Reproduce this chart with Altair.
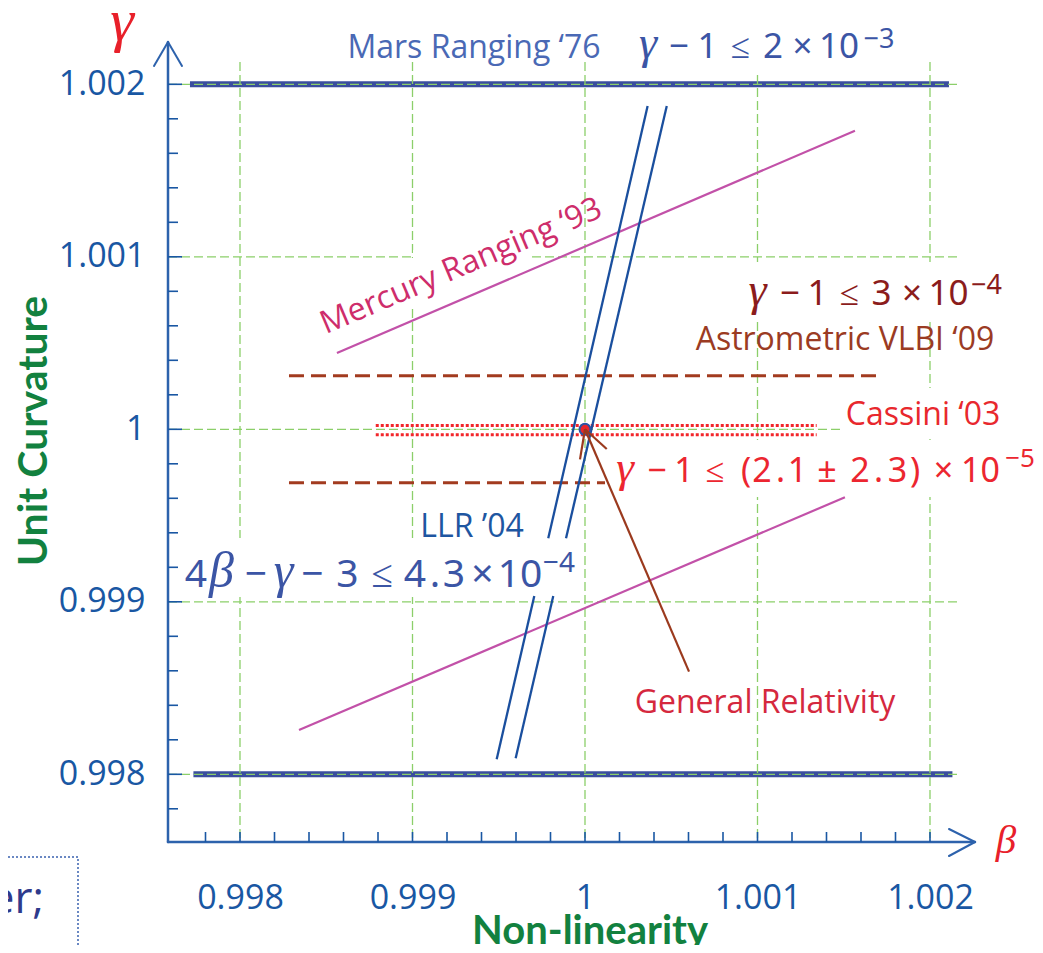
import altair as alt
import pandas as pd

# ---------------- data ----------------
# Mars Ranging '76 : |gamma-1| <= 2e-3
mars_gamma = [1.002, 0.998]
mars_beta_start = [0.99771, 0.99773]
mars_beta_end = [1.00211, 1.00213]

# Mercury Ranging '93 : two sloped bounds
mercury_beta_start = [0.998562, 0.998342]
mercury_gamma_start = [1.000442, 0.998257]
mercury_beta_end = [1.001565, 1.001507]
mercury_gamma_end = [1.001731, 0.999606]

# LLR '04 : 4beta-gamma-3 bounds (two lines, each drawn in two pieces)
llr_beta_start = [1.000363, 0.999706, 1.000474, 0.999816]
llr_gamma_start = [1.001874, 0.999034, 1.001874, 0.999034]
llr_beta_end = [0.999787, 0.999488, 0.999890, 0.999598]
llr_gamma_end = [0.999368, 0.998087, 0.999368, 0.998093]

# Astrometric VLBI '09 : |gamma-1| <= 3e-4
vlbi_gamma = [1.000311, 0.999690]
vlbi_beta_start = [0.998284, 0.998284]
vlbi_beta_end = [1.001710, 1.000116]

# Cassini '03
cassini_gamma = [1.000022, 0.999968]
cassini_beta_start = [0.998787, 0.998787]
cassini_beta_end = [1.001343, 1.001343]

# General Relativity point
gr_beta = [1.0]
gr_gamma = [1.0]

# arrow from "General Relativity" label to the GR point
arrow_beta_start = [1.000603, 1.0, 1.0]
arrow_gamma_start = [0.998595, 1.0, 1.0]
arrow_beta_end = [1.0, 0.999971, 1.000126]
arrow_gamma_end = [1.0, 0.999826, 0.999886]

major_ticks = [0.998, 0.999, 1.0, 1.001, 1.002]
minor_ticks = [0.9978, 0.9982, 0.9984, 0.9986, 0.9988, 0.9992, 0.9994, 0.9996,
               0.9998, 1.0002, 1.0004, 1.0006, 1.0008, 1.0012, 1.0014, 1.0016, 1.0018]
grid_v_top = 1.002129
grid_h_right = 1.002157

# ---------------- layout helpers ----------------
W, H = 807, 800
OX, OY = 168, 42  # page position of the plot origin
BETA_MIN, BETA_MAX = 0.9975826, 1.0022609
GAMMA_MIN, GAMMA_MAX = 0.9976075, 1.0022452
SANS = "Open Sans"

XS = alt.Scale(domain=[BETA_MIN, BETA_MAX], nice=False, zero=False)
YS = alt.Scale(domain=[GAMMA_MIN, GAMMA_MAX], nice=False, zero=False)
TICKC = "#1957A3"
XAX = alt.Axis(values=major_ticks, format=".3~f", domain=False, ticks=False, tickSize=0,
               grid=False, labelFont=SANS, labelFontSize=34, labelColor=TICKC,
               labelPadding=39, labelFlush=False, labelOverlap=False, title=None)
YAX = alt.Axis(values=major_ticks, format=".3~f", domain=False, ticks=False, tickSize=0,
               grid=False, labelFont=SANS, labelFontSize=34, labelColor=TICKC,
               labelPadding=23, labelFlush=False, labelOverlap=False, title=None)


def X(f="b"):
    return alt.X(f"{f}:Q", scale=XS, axis=XAX)


def Y(f="g"):
    return alt.Y(f"{f}:Q", scale=YS, axis=YAX)


def seg(b, g, b2, g2, **mk):
    df = pd.DataFrame({"b": b, "g": g, "b2": b2, "g2": g2})
    return alt.Chart(df).mark_rule(**mk).encode(
        x=X(), y=Y(), x2=alt.X2("b2:Q"), y2=alt.Y2("g2:Q"))


def label(text, px, py, size, color, font=SANS, style="normal", weight="normal",
          align="center", baseline="alphabetic", angle=0):
    df = pd.DataFrame({"t": [text]})
    return alt.Chart(df).mark_text(
        align=align, baseline=baseline, font=font, fontSize=size, fontStyle=style,
        fontWeight=weight, color=color, angle=angle
    ).encode(x=alt.value(px - OX), y=alt.value(py - OY), text="t:N")


def pixrule(x1, y1, x2, y2, color, width):
    df = pd.DataFrame({"k": [0]})
    return alt.Chart(df).mark_rule(color=color, strokeWidth=width, strokeCap="round").encode(
        x=alt.value(x1 - OX), y=alt.value(y1 - OY), x2=alt.value(x2 - OX), y2=alt.value(y2 - OY))


def whitebox(x1, y1, x2, y2):
    df = pd.DataFrame({"k": [0]})
    return alt.Chart(df).mark_rect(color="white", opacity=1).encode(
        x=alt.value(x1 - OX), y=alt.value(y1 - OY), x2=alt.value(x2 - OX), y2=alt.value(y2 - OY))


def formula(tokens, base, color, size, gsize, sbase, ssize):
    out = []
    for t, cx, kind in tokens:
        if kind == "g":
            out.append(label(t, cx, base, gsize, color, font="Liberation Serif", style="italic"))
        elif kind == "s":
            out.append(label(t, cx, sbase, ssize, color, font="Noto Sans"))
        else:
            out.append(label(t, cx, base, size, color, font="Noto Sans"))
    return out


layers = []

# Mars Ranging thick lines
layers.append(seg(mars_beta_start, mars_gamma, mars_beta_end, mars_gamma,
                  color="#3A4E9E", strokeWidth=6))

# grid
GRIDC = "#8CCF6A"
layers.append(
    alt.Chart(pd.DataFrame({"b": major_ticks, "g": [grid_v_top] * 5}))
    .mark_rule(color=GRIDC, strokeWidth=1.3, strokeDash=[9, 4])
    .encode(x=X(), y=Y(), y2=alt.value(H)))
layers.append(
    alt.Chart(pd.DataFrame({"g": major_ticks, "b": [BETA_MIN] * 5, "b2": [grid_h_right] * 5}))
    .mark_rule(color=GRIDC, strokeWidth=1.3, strokeDash=[9, 4])
    .encode(y=Y(), x=X(), x2=alt.X2("b2:Q")))

# white text boxes hiding parts of the grid
for bx in [(632, 10, 900, 73), (740, 262, 1005, 320), (840, 388, 1005, 437),
           (610, 440, 1040, 497), (180, 538, 580, 597), (413, 250, 531, 264),
           (405, 258, 419, 307)]:
    layers.append(whitebox(*bx))

# axes with arrows
AXC = "#2D62AC"
layers.append(pixrule(168, 842, 168, 42, AXC, 2.5))
layers.append(pixrule(168, 842, 975, 842, AXC, 2.5))
layers.append(pixrule(168, 42, 154, 66, AXC, 2))
layers.append(pixrule(168, 42, 182, 66, AXC, 2))
layers.append(pixrule(975, 842, 949, 829, AXC, 2))
layers.append(pixrule(975, 842, 949, 856, AXC, 2))

# ticks
layers.append(alt.Chart(pd.DataFrame({"g": minor_ticks})).mark_rule(color=TICKC, strokeWidth=1.6)
              .encode(y=Y(), x=alt.value(0), x2=alt.value(10)))
layers.append(alt.Chart(pd.DataFrame({"g": major_ticks})).mark_rule(color=TICKC, strokeWidth=1.6)
              .encode(y=Y(), x=alt.value(0), x2=alt.value(14)))
layers.append(alt.Chart(pd.DataFrame({"b": minor_ticks + major_ticks})).mark_rule(color=TICKC, strokeWidth=1.6)
              .encode(x=X(), y=alt.value(H), y2=alt.value(H - 10)))

# constraint lines
layers.append(seg(vlbi_beta_start, vlbi_gamma, vlbi_beta_end, vlbi_gamma,
                  color="#A23B1F", strokeWidth=3, strokeDash=[15, 7]))
layers.append(seg(mercury_beta_start, mercury_gamma_start, mercury_beta_end, mercury_gamma_end,
                  color="#C251A8", strokeWidth=2.2))
layers.append(seg(cassini_beta_start, cassini_gamma, cassini_beta_end, cassini_gamma,
                  color="#F2262B", strokeWidth=3, strokeDash=[3, 2]))
layers.append(seg(llr_beta_start, llr_gamma_start, llr_beta_end, llr_gamma_end,
                  color="#1A4F9E", strokeWidth=2.3))

# GR point and arrow
layers.append(alt.Chart(pd.DataFrame({"b": gr_beta, "g": gr_gamma}))
              .mark_circle(size=120, fill="#E8262B", stroke="#2A55A5", strokeWidth=2, opacity=1)
              .encode(x=X(), y=Y()))
layers.append(seg(arrow_beta_start, arrow_gamma_start, arrow_beta_end, arrow_gamma_end,
                  color="#9B3A1E", strokeWidth=2.2))

# ---------------- texts ----------------
layers.append(label("Mars Ranging ‘76", 474, 58, 32, "#4A69B5"))
layers.append(label("Mercury Ranging ‘93", 461, 266, 32, "#CE2D6B", baseline="middle", angle=337))
layers.append(label("Astrometric VLBI ‘09", 845, 350, 32, "#9B3B23"))
layers.append(label("Cassini ‘03", 923, 425, 32, "#E8282D"))
layers.append(label("LLR ’04", 472, 537, 32, "#1E56A1"))
layers.append(label("General Relativity", 765, 713, 32, "#D5283E"))

MF = "#3B55A5"
layers += formula([("γ", 648, "g"), ("−", 679, "m"), ("1", 707.5, "m"), ("≤", 740, "m"),
                   ("2", 773, "m"), ("×", 802.5, "m"), ("10", 839, "m"), ("−3", 879, "s")],
                  58, MF, 35, 46, 48, 27)
layers += formula([("γ", 757.5, "g"), ("−", 790, "m"), ("1", 817.5, "m"), ("≤", 849, "m"),
                   ("3", 881.5, "m"), ("×", 912, "m"), ("10", 948.5, "m"), ("−4", 986.5, "s")],
                  305, "#8B1C1C", 35, 46, 294, 27)
layers += formula([("γ", 625, "g"), ("−", 657, "m"), ("1", 684, "m"), ("≤", 715, "m"),
                   ("(", 746, "m"), ("2", 762, "m"), (".", 780.5, "m"), ("1", 797.5, "m"),
                   ("±", 827, "m"), ("2", 860, "m"), (".", 878.5, "m"), ("3", 897.5, "m"),
                   (")", 915, "m"), ("×", 943.5, "m"), ("10", 980.5, "m"), ("−5", 1020, "s")],
                  482, "#EC2630", 34, 45, 467, 26)
layers += formula([("4", 196, "m"), ("β", 221.5, "g"), ("−", 256, "m"), ("γ", 283.5, "g"),
                   ("−", 312.5, "m"), ("3", 347.5, "m"), ("≤", 382, "m"), ("4", 415, "m"),
                   (".", 435, "m"), ("3", 454, "m"), ("×", 482.5, "m"), ("10", 520, "m"),
                   ("−4", 559, "s")],
                  587, MF, 39, 50, 572, 28)

# axis symbols and titles
layers.append(label("γ", 122, 40, 60, "#E8202A", font="Liberation Serif", style="italic"))
layers.append(label("β", 1006, 853, 41, "#E8202A", font="Liberation Serif", style="italic"))
GREEN = "#12813F"
layers.append(label("Unit Curvature", 47, 431, 41, GREEN, font="Lato", weight="bold", angle=270))
layers.append(label("Non-linearity", 590, 944, 40, GREEN, font="Lato", weight="bold"))

# partial text box at bottom-left
layers.append(alt.Chart(pd.DataFrame({"k": [0]}))
              .mark_rect(fillOpacity=0, stroke="#3A62B0", strokeWidth=1.5, strokeDash=[2, 2])
              .encode(x=alt.value(-200), x2=alt.value(78 - OX), y=alt.value(857 - OY), y2=alt.value(1000)))
layers.append(label("er;", 44, 913, 44, "#2E3A8C", align="right"))

chart = alt.layer(*layers).properties(
    width=W, height=H,
    padding={"left": 160, "top": 34, "right": 60, "bottom": 103},
    autosize=alt.AutoSizeParams(type="none"),
    background="white",
).configure_view(stroke=None)

chart.save("out.html", embed_options={"renderer": "svg", "actions": False})
